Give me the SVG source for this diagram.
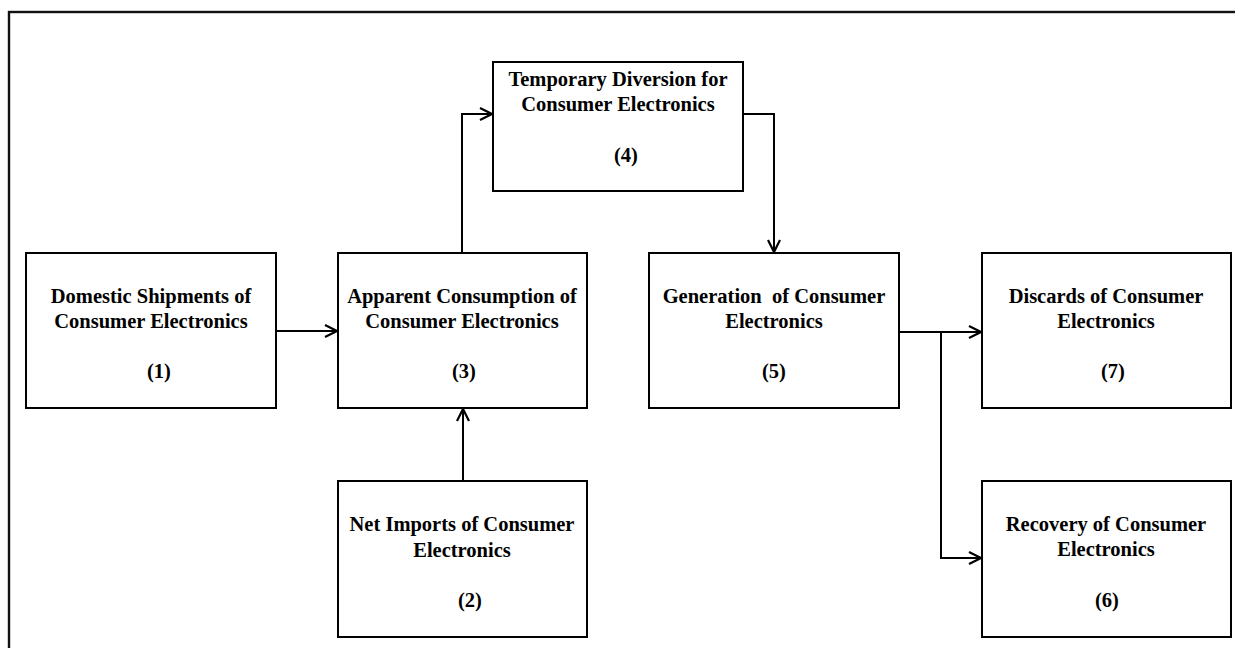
<svg xmlns="http://www.w3.org/2000/svg" width="1235" height="648" viewBox="0 0 1235 648">
<style>
.box{fill:#fff;stroke:#000;stroke-width:2}
.t{font-family:"Liberation Serif","Times New Roman",serif;font-weight:bold;font-size:20.5px;fill:#000;text-anchor:middle}
.c{fill:none;stroke:#000;stroke-width:2}
</style>
<defs>
<marker id="ah" viewBox="0 0 14 14" refX="13" refY="7" markerWidth="14" markerHeight="14" markerUnits="userSpaceOnUse" orient="auto">
<path d="M1,1 L13,7 L1,13" fill="none" stroke="#000" stroke-width="2.2"/>
</marker>
</defs>
<rect width="1235" height="648" fill="#fff"/>
<rect x="9" y="12" width="1240" height="650" fill="none" stroke="#111" stroke-width="2.4"/>
<g id="connectors">
<path class="c" d="M276,331 H337" marker-end="url(#ah)"/>
<path class="c" d="M462,253 V114 H492" marker-end="url(#ah)"/>
<path class="c" d="M743,114 H774 V252" marker-end="url(#ah)"/>
<path class="c" d="M463,481 V409" marker-end="url(#ah)"/>
<path class="c" d="M899,332 H981" marker-end="url(#ah)"/>
<path class="c" d="M941,332 V558 H981" marker-end="url(#ah)"/>
</g>
<g id="n1"><rect class="box" x="26" y="253" width="250" height="155"/>
<text class="t" x="151" y="303">Domestic Shipments of</text>
<text class="t" x="151" y="328">Consumer Electronics</text>
<text class="t" x="159" y="378">(1)</text></g>
<g id="n3"><rect class="box" x="338" y="253" width="249" height="155"/>
<text class="t" x="462" y="303">Apparent Consumption of</text>
<text class="t" x="462" y="328">Consumer Electronics</text>
<text class="t" x="464" y="378">(3)</text></g>
<g id="n4"><rect class="box" x="493" y="62" width="250" height="129"/>
<text class="t" x="618" y="86">Temporary Diversion for</text>
<text class="t" x="618" y="111">Consumer Electronics</text>
<text class="t" x="626" y="162">(4)</text></g>
<g id="n5"><rect class="box" x="649" y="253" width="250" height="155"/>
<text class="t" x="774" y="303" xml:space="preserve">Generation  of Consumer</text>
<text class="t" x="774" y="328">Electronics</text>
<text class="t" x="774" y="378">(5)</text></g>
<g id="n7"><rect class="box" x="982" y="253" width="249" height="155"/>
<text class="t" x="1106" y="303">Discards of Consumer</text>
<text class="t" x="1106" y="328">Electronics</text>
<text class="t" x="1113" y="378">(7)</text></g>
<g id="n2"><rect class="box" x="338" y="481" width="249" height="156"/>
<text class="t" x="462" y="531">Net Imports of Consumer</text>
<text class="t" x="462" y="557">Electronics</text>
<text class="t" x="470" y="607">(2)</text></g>
<g id="n6"><rect class="box" x="982" y="481" width="249" height="156"/>
<text class="t" x="1106" y="531">Recovery of Consumer</text>
<text class="t" x="1106" y="556">Electronics</text>
<text class="t" x="1107" y="607">(6)</text></g>
</svg>
